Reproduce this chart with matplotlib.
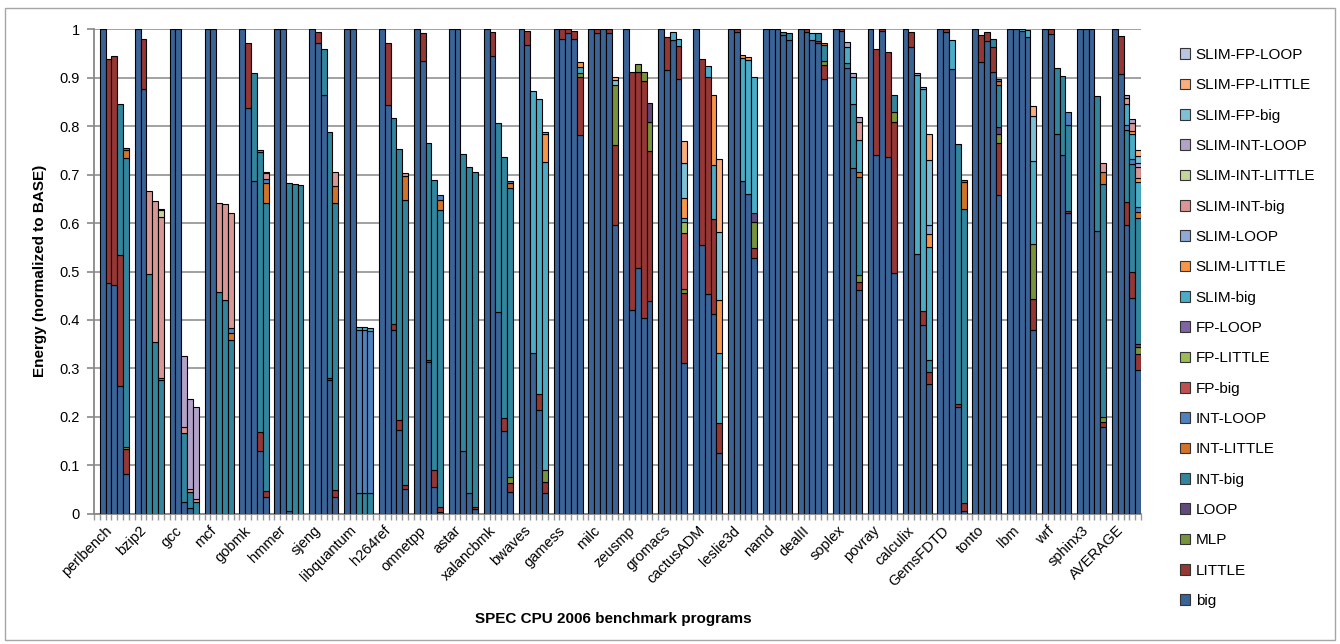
import numpy as np
import matplotlib as mpl
mpl.use('Agg')
import matplotlib.pyplot as plt
from matplotlib.patches import Patch, Rectangle

plt.rcParams['font.family'] = ['Liberation Sans', 'DejaVu Sans']

W, H = 1340, 644

benchmarks = ["perlbench", "bzip2", "gcc", "mcf", "gobmk", "hmmer", "sjeng", "libquantum",
              "h264ref", "omnetpp", "astar", "xalancbmk", "bwaves", "gamess", "milc", "zeusmp",
              "gromacs", "cactusADM", "leslie3d", "namd", "dealII", "soplex", "povray",
              "calculix", "GemsFDTD", "tonto", "lbm", "wrf", "sphinx3", "AVERAGE"]

# stack order, bottom to top
series_names = ["big", "LITTLE", "MLP", "LOOP", "INT-big", "INT-LITTLE", "INT-LOOP",
                "FP-big", "FP-LITTLE", "FP-LOOP", "SLIM-big", "SLIM-LITTLE", "SLIM-LOOP",
                "SLIM-INT-big", "SLIM-INT-LITTLE", "SLIM-INT-LOOP",
                "SLIM-FP-big", "SLIM-FP-LITTLE", "SLIM-FP-LOOP"]
series_colors = ["#3A6396", "#953735", "#77933C", "#604A7B", "#31859C", "#D2732A", "#4F81BD",
                 "#C0504D", "#9BBB59", "#8064A2", "#4BACC6", "#F79646", "#8EA9D6",
                 "#D99694", "#C3D69B", "#B3A2C7", "#7FC0D4", "#F9AE7C", "#B8C6E2"]

# energy per configuration (5 bars per benchmark), one dict per core type
big = {
    "perlbench": [1, .476, .472, .264, .081], "bzip2": [1, .876, 0, 0, 0],
    "gcc": [1, 1, .025, .011, 0], "mcf": [1, 1, 0, 0, 0],
    "gobmk": [1, .837, .687, .129, .035], "hmmer": [1, 1, .005, 0, 0],
    "sjeng": [1, .971, .864, .277, .035], "libquantum": [1, 1, 0, 0, 0],
    "h264ref": [1, .844, .379, .173, .051], "omnetpp": [1, .935, .314, .056, .004],
    "astar": [1, 1, .129, .042, .009], "xalancbmk": [1, .945, .417, .171, .045],
    "bwaves": [1, .968, .332, .214, .042], "gamess": [1, .979, .993, .979, .782],
    "milc": [1, .992, 1, .992, .595], "zeusmp": [1, .421, .508, .403, .440],
    "gromacs": [1, .915, .978, .897, .312], "cactusADM": [1, .555, .454, .412, .125],
    "leslie3d": [1, .995, .686, .660, .527], "namd": [1, 1, 1, .988, .977],
    "dealII": [1, .995, .977, .971, .897], "soplex": [1, .997, .921, .714, .462],
    "povray": [1, .741, .997, .736, .496], "calculix": [1, .964, .537, .390, .268],
    "GemsFDTD": [1, .995, .919, .221, .006], "tonto": [1, .933, .975, .911, .658],
    "lbm": [1, 1, .996, .985, .379], "wrf": [1, .990, .783, .741, .620],
    "sphinx3": [1, 1, 1, .584, .178], "AVERAGE": [1, .907, .597, .446, .297],
}
LITTLE = {
    "perlbench": [0, .462, .472, .271, .053], "bzip2": [0, .103, 0, 0, 0],
    "gobmk": [0, .135, 0, .039, .012], "sjeng": [0, .024, 0, .004, .014],
    "h264ref": [0, .127, .013, .020, .008], "omnetpp": [0, .057, .003, .034, .009],
    "astar": [0, 0, 0, 0, .004], "xalancbmk": [0, .049, 0, .026, .018],
    "bwaves": [0, .029, 0, .034, .023], "gamess": [0, .021, .007, .018, .120],
    "milc": [0, .008, 0, .008, .166], "zeusmp": [0, .490, .403, .490, .309],
    "gromacs": [0, .070, 0, .069, .143], "cactusADM": [0, .383, .447, .196, .062],
    "leslie3d": [0, .005, 0, 0, .022], "dealII": [0, .005, 0, .004, .029],
    "soplex": [0, .003, 0, 0, .017], "povray": [0, .218, .003, .218, .313],
    "calculix": [0, .030, 0, .028, .025], "GemsFDTD": [0, .005, 0, .005, .017],
    "tonto": [0, .055, .020, .053, .107], "lbm": [0, 0, 0, 0, .064],
    "wrf": [0, .010, 0, 0, .005], "sphinx3": [0, 0, 0, 0, .012],
    "AVERAGE": [0, .079, .047, .052, .032],
}
MLP = {
    "perlbench": [0, 0, 0, 0, .004], "xalancbmk": [0, 0, 0, 0, .013],
    "bwaves": [0, 0, 0, 0, .025], "gamess": [0, 0, 0, 0, .008],
    "milc": [0, 0, 0, 0, .123], "zeusmp": [0, 0, .017, .018, .060],
    "gromacs": [0, 0, 0, 0, .008], "leslie3d": [0, 0, 0, 0, .054],
    "dealII": [0, 0, 0, 0, .009], "soplex": [0, 0, 0, 0, .014],
    "povray": [0, 0, 0, 0, .021], "tonto": [0, 0, 0, 0, .019],
    "lbm": [0, 0, 0, 0, .114], "sphinx3": [0, 0, 0, 0, .010],
    "AVERAGE": [0, 0, 0, 0, .016],
}
LOOP = {
    "zeusmp": [0, 0, 0, 0, .038], "leslie3d": [0, 0, 0, 0, .017],
    "tonto": [0, 0, 0, 0, .015], "AVERAGE": [0, 0, 0, 0, .005],
}
INT_big = {
    "perlbench": [0, 0, 0, .311, .596], "bzip2": [0, 0, .494, .354, .275],
    "gcc": [0, 0, .141, .034, .025], "mcf": [0, 0, .458, .441, .359],
    "gobmk": [0, 0, .222, .578, .594], "hmmer": [0, 0, .677, .680, .679],
    "sjeng": [0, 0, .095, .508, .592], "libquantum": [0, 0, .042, .042, .042],
    "h264ref": [0, 0, .424, .559, .589], "omnetpp": [0, 0, .449, .599, .614],
    "astar": [0, 0, .613, .673, .692], "xalancbmk": [0, 0, .389, .540, .596],
    "namd": [0, 0, 0, .007, .015], "dealII": [0, 0, 0, .017, .032],
    "soplex": [0, 0, .009, .132, .203], "povray": [0, 0, 0, 0, .034],
    "calculix": [0, 0, 0, 0, .024], "GemsFDTD": [0, 0, 0, .537, .607],
    "tonto": [0, 0, 0, .017, .085], "wrf": [0, 0, .138, .163, .177],
    "sphinx3": [0, 0, 0, .279, .480], "AVERAGE": [0, 0, .148, .223, .261],
}
INT_LITTLE = {
    "perlbench": [0, 0, 0, 0, .017], "bzip2": [0, 0, 0, 0, .006],
    "mcf": [0, 0, 0, 0, .015], "gobmk": [0, 0, 0, .005, .042],
    "sjeng": [0, 0, 0, 0, .036], "h264ref": [0, 0, 0, 0, .049],
    "omnetpp": [0, 0, 0, 0, .021], "xalancbmk": [0, 0, 0, 0, .010],
    "dealII": [0, 0, 0, 0, .004], "soplex": [0, 0, 0, 0, .010],
    "GemsFDTD": [0, 0, 0, 0, .054], "tonto": [0, 0, 0, 0, .010],
    "sphinx3": [0, 0, 0, 0, .026], "AVERAGE": [0, 0, 0, 0, .011],
}
INT_LOOP = {
    "perlbench": [0, 0, 0, 0, .003], "mcf": [0, 0, 0, 0, .009],
    "gobmk": [0, 0, 0, 0, .007], "libquantum": [0, 0, .337, .337, .336],
    "omnetpp": [0, 0, 0, 0, .010], "xalancbmk": [0, 0, 0, 0, .004],
    "GemsFDTD": [0, 0, 0, 0, .004], "tonto": [0, 0, 0, 0, .003],
    "wrf": [0, 0, 0, 0, .027], "AVERAGE": [0, 0, .010, .012, .012],
}
FP_big = {"gromacs": [0, 0, 0, 0, .116]}
FP_LITTLE = {"gromacs": [0, 0, 0, 0, .024]}
FP_LOOP = {}
SLIM_big = {
    "libquantum": [0, 0, .007, .006, .006], "bwaves": [0, 0, .541, .608, .637],
    "gamess": [0, 0, 0, 0, .012], "gromacs": [0, 0, .017, .014, .008],
    "cactusADM": [0, 0, .024, .112, .144], "leslie3d": [0, 0, .254, .277, .281],
    "dealII": [0, 0, .016, 0, 0], "soplex": [0, 0, .034, .056, .065],
    "calculix": [0, 0, .368, .459, .234], "GemsFDTD": [0, 0, .058, 0, 0],
    "lbm": [0, 0, .004, .014, .171], "AVERAGE": [0, 0, .044, .051, .050],
}
SLIM_LITTLE = {
    "bwaves": [0, 0, 0, 0, .056], "gamess": [0, 0, 0, 0, .011],
    "gromacs": [0, 0, 0, 0, .041], "cactusADM": [0, 0, 0, .144, .110],
    "leslie3d": [0, 0, .007, .005, 0], "calculix": [0, 0, 0, 0, .026],
    "AVERAGE": [0, 0, 0, .006, .008],
}
SLIM_LOOP = {"bwaves": [0, 0, 0, 0, .006], "calculix": [0, 0, 0, .004, .019]}
SLIM_INT_big = {
    "bzip2": [0, 0, .173, .292, .332], "gcc": [0, 0, .012, .007, .005],
    "mcf": [0, 0, .183, .198, .237], "gobmk": [0, 0, 0, 0, .013],
    "sjeng": [0, 0, 0, 0, .028], "h264ref": [0, 0, 0, 0, .006],
    "soplex": [0, 0, 0, 0, .037], "sphinx3": [0, 0, 0, 0, .018],
    "AVERAGE": [0, 0, .012, .016, .024],
}
SLIM_INT_LITTLE = {"bzip2": [0, 0, 0, 0, .013]}
SLIM_INT_LOOP = {
    "bzip2": [0, 0, 0, 0, .003], "gcc": [0, 0, .147, .185, .191],
    "gobmk": [0, 0, 0, 0, .003], "soplex": [0, 0, .009, .007, .010],
    "calculix": [0, 0, .004, 0, 0], "AVERAGE": [0, 0, .006, .009, .007],
}
SLIM_FP_big = {
    "milc": [0, 0, 0, 0, .011], "gromacs": [0, 0, 0, 0, .071],
    "cactusADM": [0, 0, 0, 0, .140], "calculix": [0, 0, 0, 0, .135],
    "lbm": [0, 0, 0, 0, .094], "AVERAGE": [0, 0, 0, 0, .016],
}
SLIM_FP_LITTLE = {
    "milc": [0, 0, 0, 0, .006], "gromacs": [0, 0, 0, 0, .047],
    "cactusADM": [0, 0, 0, 0, .151], "calculix": [0, 0, 0, 0, .053],
    "lbm": [0, 0, 0, 0, .020], "AVERAGE": [0, 0, 0, 0, .012],
}
SLIM_FP_LOOP = {}

series_data = [big, LITTLE, MLP, LOOP, INT_big, INT_LITTLE, INT_LOOP,
               FP_big, FP_LITTLE, FP_LOOP, SLIM_big, SLIM_LITTLE, SLIM_LOOP,
               SLIM_INT_big, SLIM_INT_LITTLE, SLIM_INT_LOOP,
               SLIM_FP_big, SLIM_FP_LITTLE, SLIM_FP_LOOP]

N_CFG = 5
SLOT = N_CFG + 1   # one empty category before each group
n_bench = len(benchmarks)

heights = np.zeros((len(series_data), n_bench * N_CFG))
for s, d in enumerate(series_data):
    for name, vals in d.items():
        g = benchmarks.index(name)
        heights[s, g * N_CFG:(g + 1) * N_CFG] = vals

xpos = np.array([SLOT * g + 1 + k for g in range(n_bench) for k in range(N_CFG)])

fig = plt.figure(figsize=(W / 100, H / 100), dpi=100)
ax = fig.add_axes([94 / W, (H - 513.7) / H, (1141 - 94) / W, (513.7 - 29.3) / H])

bottom = np.zeros(xpos.size)
handles = []
for s in range(len(series_data)):
    h = heights[s]
    m = h > 0
    if m.any():
        ax.bar(xpos[m], h[m], width=1, bottom=bottom[m], align='edge',
               color=series_colors[s], edgecolor='black', linewidth=0.8, zorder=3)
    bottom += h
    handles.append(Patch(facecolor=series_colors[s], edgecolor='#333333', linewidth=0.8,
                         label=series_names[s]))

ax.set_xlim(0, SLOT * n_bench)
ax.set_ylim(0, 1)
ax.set_yticks(np.round(np.arange(0, 1.01, 0.1), 1))
ax.set_yticklabels([f"{v:g}" for v in np.round(np.arange(0, 1.01, 0.1), 1)])
ax.set_axisbelow(True)
ax.yaxis.grid(True, color='#9A9A9A', linewidth=1.3)

for sp in ['top', 'right']:
    ax.spines[sp].set_visible(False)
for sp in ['left', 'bottom']:
    ax.spines[sp].set_color('#888888')
    ax.spines[sp].set_linewidth(1.3)

# labels centred under each group, ticks on every category boundary
ax.set_xticks([SLOT * g + 3.5 for g in range(n_bench)])
ax.set_xticklabels(benchmarks, rotation=45, ha='right', va='top')
ax.set_xticks(np.arange(0, SLOT * n_bench + 1), minor=True)
ax.tick_params(axis='x', which='major', length=0, pad=7, labelsize=10.5)
ax.tick_params(axis='x', which='minor', length=4, color='#999999', width=1)
ax.tick_params(axis='y', length=5, color='#888888', width=1.2, labelsize=10.5, pad=5)

fig.text(40 / W, 1 - 271 / H, "Energy (normalized to BASE)", rotation=90,
         ha='center', va='center', fontsize=11, fontweight='bold')
fig.text(613 / W, 1 - 619 / H, "SPEC CPU 2006 benchmark programs",
         ha='center', va='center', fontsize=11, fontweight='bold')

fig.legend(handles=handles[::-1], loc='center left', bbox_to_anchor=(1172 / W, 1 - 328 / H),
           frameon=False, fontsize=11, handlelength=0.7, handleheight=0.7,
           handletextpad=0.35, labelspacing=1.07, borderpad=0)

fig.patches.append(Rectangle((5 / W, 1 - 640 / H), 1330 / W, 632 / H, transform=fig.transFigure,
                             fill=False, edgecolor='#A6A6A6', linewidth=1))

plt.savefig("out.png", dpi=100)
